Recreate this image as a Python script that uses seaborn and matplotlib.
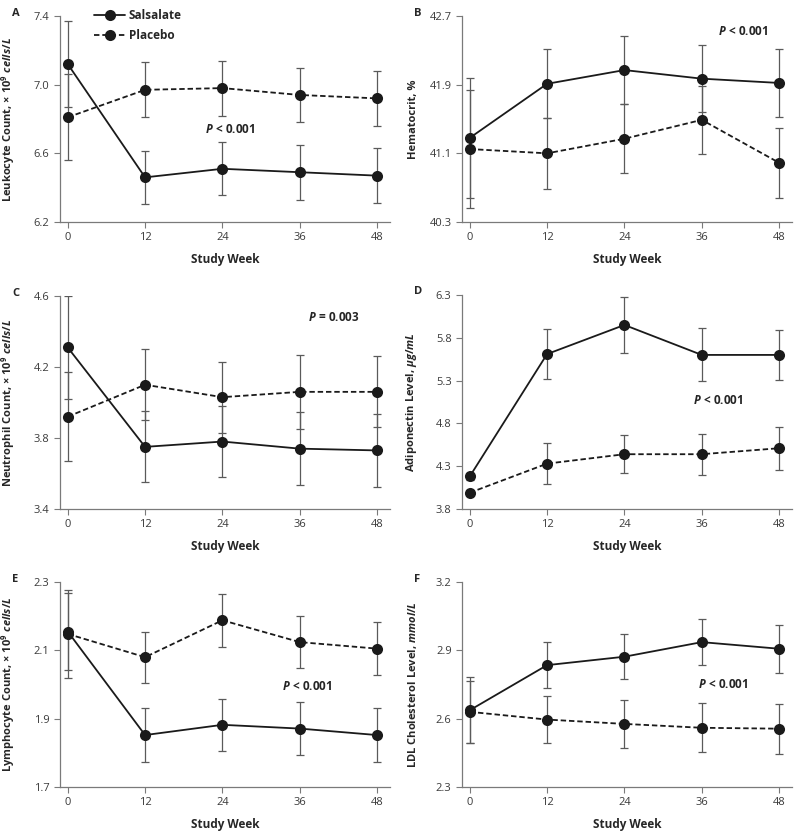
import pandas as pd
import numpy as np
import matplotlib
matplotlib.use("Agg")
import matplotlib.pyplot as plt
import seaborn as sns

sns.set_style("ticks")
plt.rcParams['font.family'] = ['Open Sans', 'DejaVu Sans']
plt.rcParams['mathtext.fontset'] = 'custom'
plt.rcParams['mathtext.rm'] = 'Open Sans:bold'
plt.rcParams['mathtext.bf'] = 'Open Sans:bold'
plt.rcParams['mathtext.it'] = 'Open Sans:italic:bold'

weeks = [0, 12, 24, 36, 48]

# A - leukocytes
leuko_sal = [7.12, 6.46, 6.51, 6.49, 6.47]
leuko_sal_se = [0.25, 0.155, 0.155, 0.16, 0.16]
leuko_plc = [6.81, 6.97, 6.98, 6.94, 6.92]
leuko_plc_se = [0.25, 0.16, 0.16, 0.16, 0.16]

# B - hematocrit
hct_sal = [41.28, 41.91, 42.07, 41.97, 41.92]
hct_sal_se = [0.70, 0.40, 0.40, 0.39, 0.40]
hct_plc = [41.15, 41.10, 41.27, 41.49, 40.99]
hct_plc_se = [0.69, 0.41, 0.40, 0.40, 0.41]

# C - neutrophils
neut_sal = [4.31, 3.75, 3.78, 3.74, 3.73]
neut_sal_se = [0.29, 0.20, 0.20, 0.205, 0.205]
neut_plc = [3.92, 4.10, 4.03, 4.06, 4.06]
neut_plc_se = [0.25, 0.20, 0.20, 0.21, 0.20]

# D - adiponectin
adipo_sal = [4.18, 5.61, 5.95, 5.60, 5.60]
adipo_sal_se = [0.04, 0.29, 0.33, 0.31, 0.29]
adipo_plc = [3.99, 4.33, 4.44, 4.44, 4.51]
adipo_plc_se = [0.03, 0.24, 0.22, 0.24, 0.25]

# E - lymphocytes
lymph_sal = [2.155, 1.852, 1.882, 1.871, 1.852]
lymph_sal_se = [0.114, 0.078, 0.077, 0.077, 0.079]
lymph_plc = [2.148, 2.080, 2.188, 2.124, 2.105]
lymph_plc_se = [0.13, 0.075, 0.078, 0.077, 0.077]

# F - LDL cholesterol
ldl_sal = [2.637, 2.835, 2.872, 2.936, 2.907]
ldl_sal_se = [0.145, 0.10, 0.10, 0.10, 0.105]
ldl_plc = [2.63, 2.596, 2.577, 2.56, 2.556]
ldl_plc_se = [0.135, 0.105, 0.105, 0.107, 0.11]

panels = [
    ("A", "Leukocyte Count, × $\\mathit{10^9\\ cells/L}$", leuko_sal, leuko_sal_se, leuko_plc, leuko_plc_se,
     [6.2, 6.6, 7.0, 7.4], "$\\mathit{P}\\ $< 0.001", (25.2, 6.74)),
    ("B", "Hematocrit, %", hct_sal, hct_sal_se, hct_plc, hct_plc_se,
     [40.3, 41.1, 41.9, 42.7], "$\\mathit{P}\\ $< 0.001", (42.4, 42.52)),
    ("C", "Neutrophil Count, × $\\mathit{10^9\\ cells/L}$", neut_sal, neut_sal_se, neut_plc, neut_plc_se,
     [3.4, 3.8, 4.2, 4.6], "$\\mathit{P}\\ $= 0.003", (41.3, 4.48)),
    ("D", "Adiponectin Level, $\\mathit{\\mu g/mL}$", adipo_sal, adipo_sal_se, adipo_plc, adipo_plc_se,
     [3.8, 4.3, 4.8, 5.3, 5.8, 6.3], "$\\mathit{P}\\ $< 0.001", (38.5, 5.07)),
    ("E", "Lymphocyte Count, × $\\mathit{10^9\\ cells/L}$", lymph_sal, lymph_sal_se, lymph_plc, lymph_plc_se,
     [1.7, 1.9, 2.1, 2.3], "$\\mathit{P}\\ $< 0.001", (37.1, 1.993)),
    ("F", "LDL Cholesterol Level, $\\mathit{mmol/L}$", ldl_sal, ldl_sal_se, ldl_plc, ldl_plc_se,
     [2.3, 2.6, 2.9, 3.2], "$\\mathit{P}\\ $< 0.001", (39.3, 2.75)),
]

# axes boxes in pixels: (left, top, bottom)
boxes = [(60, 16, 222), (462, 16, 222),
         (60, 296, 509), (462, 295, 509),
         (60, 582, 787), (462, 582, 787)]
W, H = 800, 836
axw = 330

fig = plt.figure(figsize=(8, 8.36), dpi=100)
spine_col = '#7a7a7a'

for (letter, ylab, sal, sal_se, plc, plc_se, yticks, ptxt, ppos), (l, t, b) in zip(panels, boxes):
    ax = fig.add_axes([l / W, 1 - b / H, axw / W, (b - t) / H])
    df = pd.DataFrame({
        'week': weeks * 2,
        'value': sal + plc,
        'group': ['Salsalate'] * 5 + ['Placebo'] * 5,
    })
    for y, se in [(sal, sal_se), (plc, plc_se)]:
        ax.errorbar(weeks, y, yerr=se, fmt='none', ecolor='#5a5a5a',
                    elinewidth=0.9, capsize=3, capthick=0.9, zorder=1)
    sns.lineplot(data=df, x='week', y='value', style='group',
                 style_order=['Salsalate', 'Placebo'],
                 markers={'Salsalate': 'o', 'Placebo': 'o'},
                 dashes={'Salsalate': '', 'Placebo': (3, 1.6)},
                 color='#1a1a1a', markersize=8, markeredgewidth=0,
                 linewidth=1.3, ax=ax, zorder=3, legend=(letter == 'A'))

    ax.set_xlim(-1.2, 50)
    ax.set_ylim(yticks[0], yticks[-1])
    ax.set_xticks(weeks)
    ax.set_yticks(yticks)
    ax.set_yticklabels([f"{v:.1f}" for v in yticks])
    sns.despine(ax=ax)
    for s in ['left', 'bottom']:
        ax.spines[s].set_color(spine_col)
        ax.spines[s].set_linewidth(0.9)
    ax.tick_params(colors=spine_col, labelcolor='#3a3a3a', labelsize=8,
                   length=4, width=0.8)
    ax.set_xlabel("Study Week", fontsize=8.5, fontweight='bold', labelpad=7)
    ax.set_ylabel(ylab, fontsize=8, fontweight='bold')
    ax.yaxis.set_label_coords(-0.13, 0.5)
    ax.text(ppos[0], ppos[1], ptxt, fontsize=8.5, fontweight='bold',
            ha='center', va='center')
    fig.text((l - 48) / W, 1 - (t - 3) / H, letter, fontsize=8,
             fontweight='bold', ha='left', va='center')

    if letter == 'A':
        leg = ax.legend(loc='upper left', bbox_to_anchor=(0.09, 1.055),
                        frameon=False, handlelength=2.6, handletextpad=0.3,
                        labelspacing=0.6, borderaxespad=0, fontsize=8.5)
        for txt in leg.get_texts():
            txt.set_fontweight('bold')

fig.savefig("out.png", dpi=100)
